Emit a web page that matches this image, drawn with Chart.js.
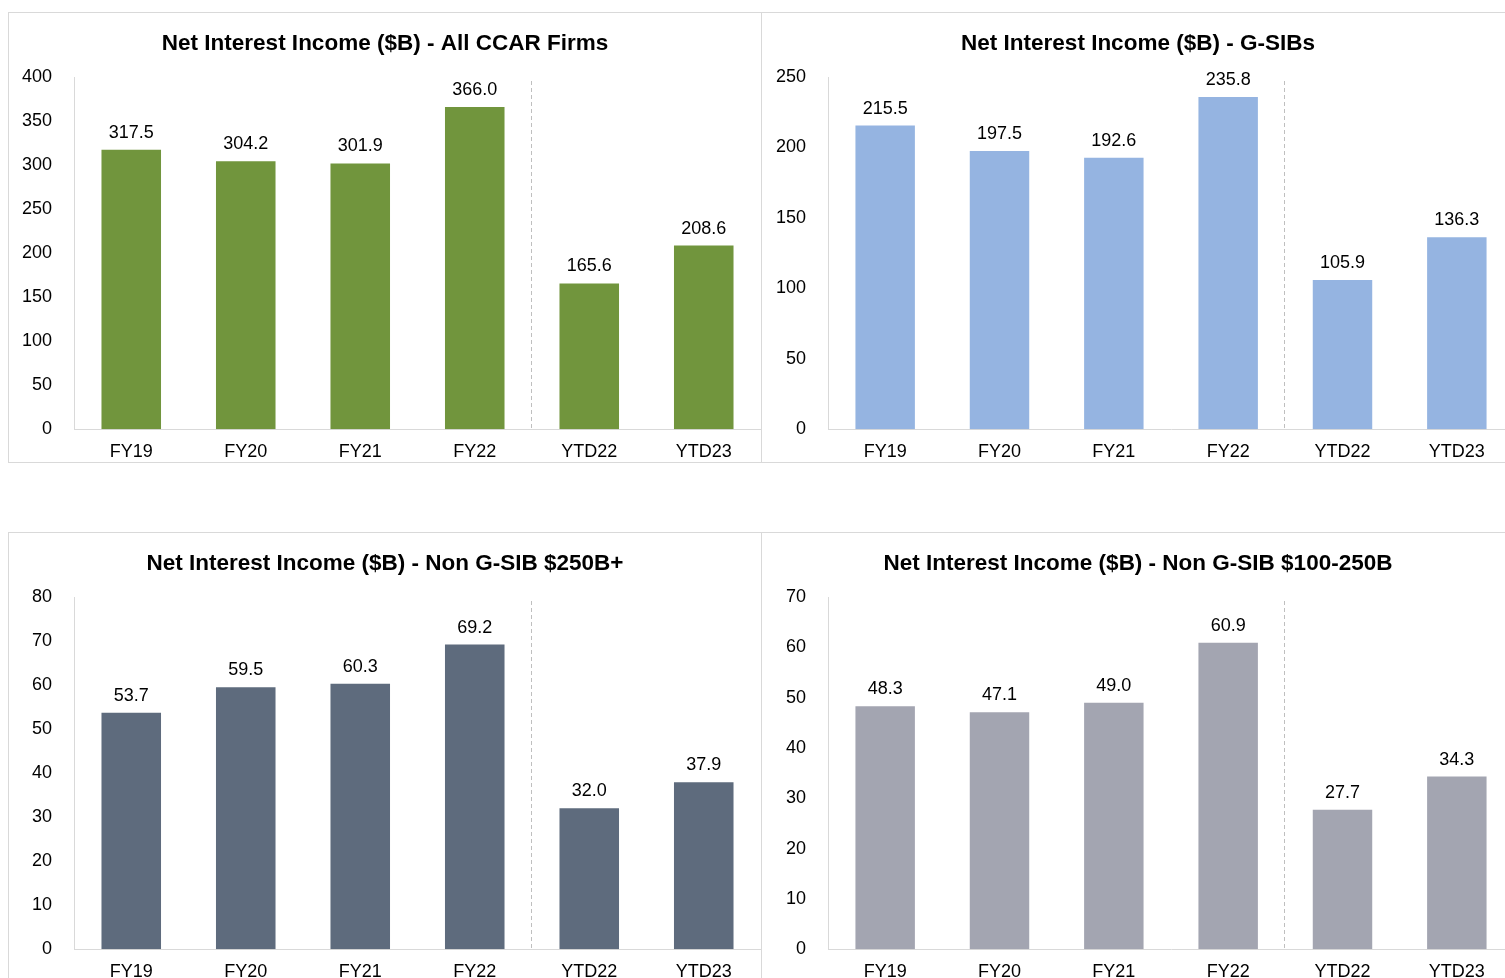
<!DOCTYPE html>
<html><head><meta charset="utf-8">
<script src="https://cdn.jsdelivr.net/npm/chart.js@4.4.0/dist/chart.umd.min.js"></script>
<style>
html,body{margin:0;padding:0;background:#fff;width:1505px;height:978px;overflow:hidden;position:relative;}
.panel{position:absolute;border:1px solid #d9d9d9;background:#fff;}
.panel canvas{display:block;}
</style></head><body>
<div class="panel" style="left:8px;top:12px;width:752px;height:449px;"><canvas id="c1" width="752" height="449"></canvas></div>
<div class="panel" style="left:761px;top:12px;width:752px;height:449px;"><canvas id="c2" width="752" height="449"></canvas></div>
<div class="panel" style="left:8px;top:532px;width:752px;height:449px;"><canvas id="c3" width="752" height="449"></canvas></div>
<div class="panel" style="left:761px;top:532px;width:752px;height:449px;"><canvas id="c4" width="752" height="449"></canvas></div>
<script>
const categories = ['FY19','FY20','FY21','FY22','YTD22','YTD23'];
const allCcar = [317.5, 304.2, 301.9, 366.0, 165.6, 208.6];
const gsibs = [215.5, 197.5, 192.6, 235.8, 105.9, 136.3];
const nonGsib250 = [53.7, 59.5, 60.3, 69.2, 32.0, 37.9];
const nonGsib100 = [48.3, 47.1, 49.0, 60.9, 27.7, 34.3];
const titles = [
  'Net Interest Income ($B) - All CCAR Firms',
  'Net Interest Income ($B) - G-SIBs',
  'Net Interest Income ($B) - Non G-SIB $250B+',
  'Net Interest Income ($B) - Non G-SIB $100-250B'
];
const yMax = [400, 250, 80, 70];
const yStep = [50, 50, 10, 10];

const FONT = '"Liberation Sans", Arial, sans-serif';

const titlePlugin = {
  id: 'panelTitle',
  afterDraw(chart, args, opts) {
    const ctx = chart.ctx;
    ctx.save();
    ctx.font = 'bold 22.5px ' + FONT;
    ctx.fillStyle = '#000';
    ctx.textAlign = 'center';
    ctx.textBaseline = 'middle';
    ctx.fillText(opts.text, opts.cx, 31);
    ctx.restore();
  }
};
const dividerPlugin = {
  id: 'divider',
  beforeDatasetsDraw(chart) {
    const x = Math.round(chart.scales.x.getPixelForValue(3.5)) - 0.5;
    const ctx = chart.ctx;
    ctx.save();
    ctx.strokeStyle = '#bfbfbf';
    ctx.lineWidth = 1;
    ctx.setLineDash([4, 3]);
    ctx.beginPath();
    ctx.moveTo(x, chart.chartArea.top + 4);
    ctx.lineTo(x, chart.chartArea.bottom);
    ctx.stroke();
    ctx.restore();
  }
};
const valueLabels = {
  id: 'valueLabels',
  afterDatasetsDraw(chart) {
    const ctx = chart.ctx;
    ctx.save();
    ctx.font = '18px ' + FONT;
    ctx.fillStyle = '#000';
    ctx.textAlign = 'center';
    ctx.textBaseline = 'alphabetic';
    const meta = chart.getDatasetMeta(0);
    const data = chart.data.datasets[0].data;
    meta.data.forEach((bar, i) => {
      ctx.fillText(data[i].toFixed(1), bar.x, bar.y - 12);
    });
    ctx.restore();
  }
};

function makeChart(id, values, color, title, max, step, leftW, cx) {
  new Chart(document.getElementById(id), {
    type: 'bar',
    data: { labels: categories, datasets: [{ data: values, backgroundColor: color, borderWidth: 0,
      categoryPercentage: 1, barPercentage: 0.52 }] },
    options: {
      responsive: false, animation: false,
      layout: { padding: { top: 64, left: 0, right: 0, bottom: 0 } },
      plugins: { legend: { display: false }, tooltip: { enabled: false },
        panelTitle: { text: title, cx: cx } },
      scales: {
        x: {
          grid: { display: false, drawTicks: false },
          border: { display: true, color: '#d9d9d9', width: 1 },
          ticks: { color: '#000', font: { family: FONT, size: 18 }, padding: 12, maxRotation: 0 },
          afterFit(s) { s.height = 31; }
        },
        y: {
          min: 0, max: max,
          grid: { display: false, drawTicks: false },
          border: { display: true, color: '#d9d9d9', width: 1 },
          ticks: { stepSize: step, color: '#000', font: { family: FONT, size: 18 }, padding: 22 },
          afterFit(s) { s.width = leftW; }
        }
      }
    },
    plugins: [titlePlugin, dividerPlugin, valueLabels]
  });
}
makeChart('c1', allCcar, '#71953d', titles[0], yMax[0], yStep[0], 65, 376);
makeChart('c2', gsibs, '#95b4e1', titles[1], yMax[1], yStep[1], 66, 376);
makeChart('c3', nonGsib250, '#5e6b7d', titles[2], yMax[2], yStep[2], 65, 376);
makeChart('c4', nonGsib100, '#a3a5b1', titles[3], yMax[3], yStep[3], 66, 376);
</script>
</body></html>
